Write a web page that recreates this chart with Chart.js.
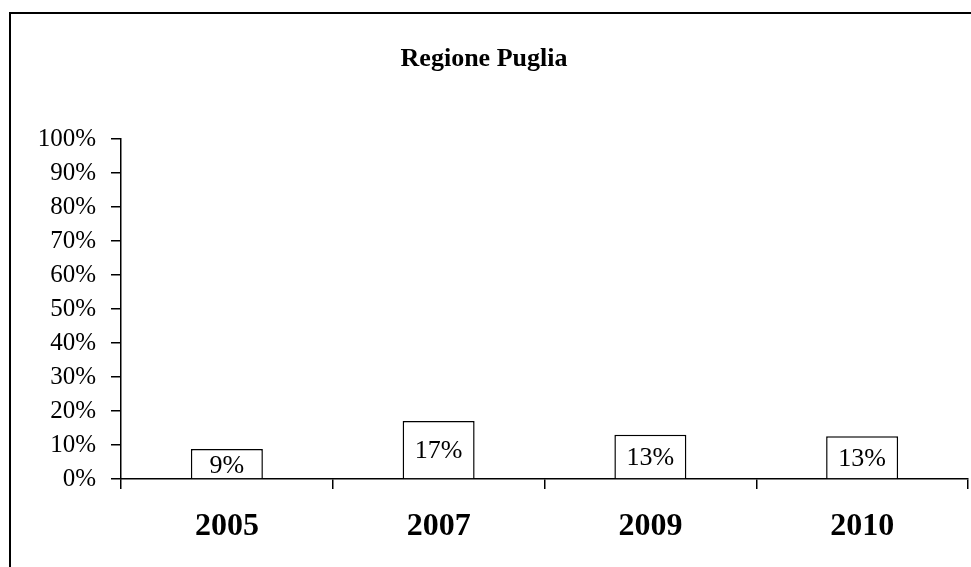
<!DOCTYPE html>
<html>
<head>
<meta charset="utf-8">
<script src="https://cdn.jsdelivr.net/npm/chart.js@4/dist/chart.umd.min.js"></script>
<style>
  html, body { margin: 0; padding: 0; background: #fff; overflow: hidden; }
  #wrap { position: relative; width: 971px; height: 567px; }
  #frame {
    position: absolute; left: 9px; top: 12px; width: 1000px; height: 600px;
    border: 2px solid #000; pointer-events: none;
  }
</style>
</head>
<body>
<div id="wrap">
  <canvas id="chart" width="971" height="567"></canvas>
  <div id="frame"></div>
</div>
<script>
// data
const years = ['2005', '2007', '2009', '2010'];
const shares = [8.8, 17.1, 13.0, 12.6];
const tickValues = [0, 10, 20, 30, 40, 50, 60, 70, 80, 90, 100];

const serif = '"Liberation Serif", "Times New Roman", serif';

// value labels in the middle of each bar
const barLabels = {
    id: 'barLabels',
    afterDatasetsDraw(chart) {
        const ctx = chart.ctx;
        const meta = chart.getDatasetMeta(0);
        ctx.save();
        ctx.font = '26px ' + serif;
        ctx.fillStyle = '#000';
        ctx.textAlign = 'center';
        ctx.textBaseline = 'middle';
        meta.data.forEach((bar, i) => {
            const v = chart.data.datasets[0].data[i];
            ctx.fillText(Math.round(v) + '%', bar.x, (bar.y + bar.base) / 2 + 2);
        });
        ctx.restore();
    }
};

const ctx = document.getElementById('chart').getContext('2d');
new Chart(ctx, {
    type: 'bar',
    data: {
        labels: years,
        datasets: [{
            data: shares,
            backgroundColor: '#fff',
            borderColor: '#000',
            borderWidth: 1.5,
            categoryPercentage: 1,
            barPercentage: 0.34
        }]
    },
    options: {
        responsive: false,
        animation: false,
        layout: { padding: { left: 0, right: 3, top: 0, bottom: 0 } },
        plugins: {
            legend: { display: false },
            tooltip: { enabled: false },
            title: {
                display: true,
                text: 'Regione Puglia',
                color: '#000',
                font: { family: serif, size: 26, weight: 'bold' },
                padding: { top: 44, bottom: 64 }
            }
        },
        scales: {
            x: {
                afterFit(scale) { scale.height = 88; },
                grid: {
                    offset: true,
                    drawOnChartArea: false,
                    drawTicks: true,
                    tickLength: 10,
                    color: '#000',
                    lineWidth: 1.5
                },
                border: { color: '#000', width: 1.5 },
                ticks: {
                    color: '#000',
                    padding: 19,
                    font: { family: serif, size: 32, weight: 'bold' }
                }
            },
            y: {
                min: 0,
                max: 100,
                afterFit(scale) { scale.width = 121; },
                afterBuildTicks(scale) {
                    scale.ticks = tickValues.map(v => ({ value: v }));
                },
                grid: {
                    drawOnChartArea: false,
                    drawTicks: true,
                    tickLength: 10,
                    color: '#000',
                    lineWidth: 1.5
                },
                border: { color: '#000', width: 1.5 },
                ticks: {
                    color: '#000',
                    padding: 15,
                    font: { family: serif, size: 25 },
                    callback: v => v + '%'
                }
            }
        }
    },
    plugins: [barLabels]
});
</script>
</body>
</html>
